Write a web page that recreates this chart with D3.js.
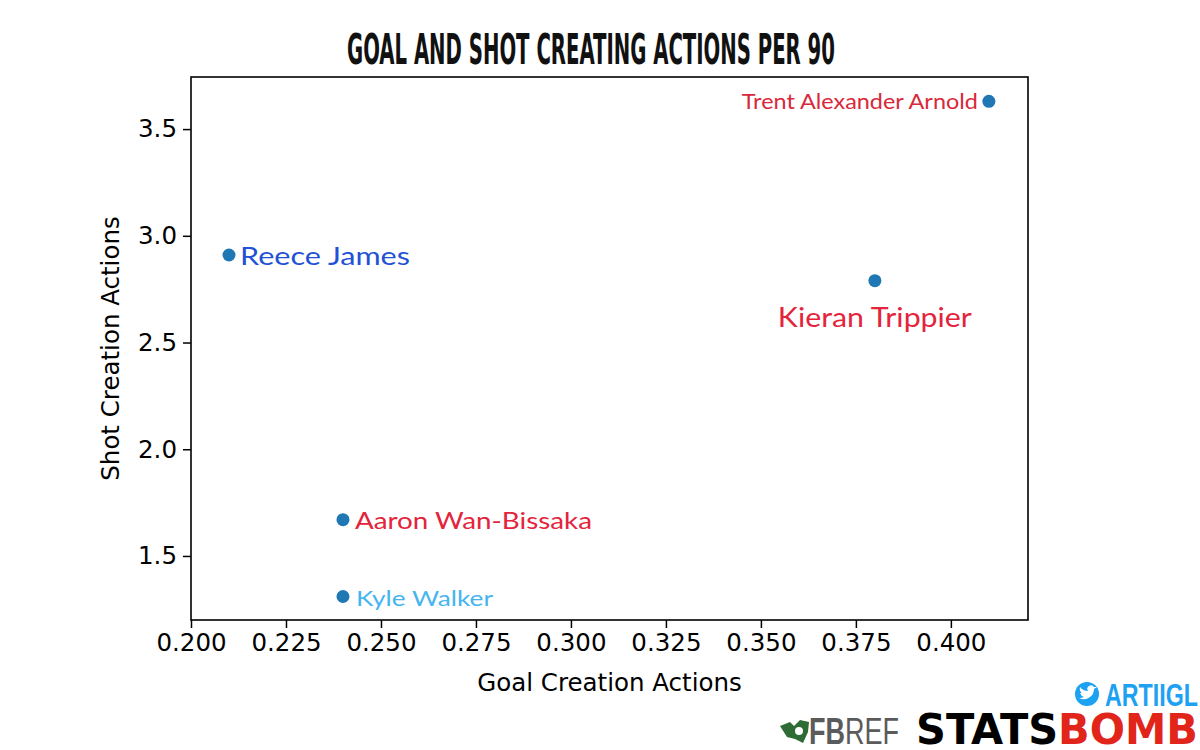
<!DOCTYPE html>
<html>
<head>
<meta charset="utf-8">
<script src="https://cdn.jsdelivr.net/npm/d3@7"></script>
<style>
  body { margin: 0; background: #fff; }
  svg { display: block; }
</style>
</head>
<body>
<svg id="chart" width="1200" height="750"></svg>
<script>
// data
const players = ["Trent Alexander Arnold", "Kieran Trippier", "Reece James", "Aaron Wan-Bissaka", "Kyle Walker"]
const goalCreation = [0.41, 0.38, 0.21, 0.24, 0.24]
const shotCreation = [3.63, 2.79, 2.91, 1.67, 1.31]
const xTicks = [0.200, 0.225, 0.250, 0.275, 0.300, 0.325, 0.350, 0.375, 0.400]
const yTicks = [1.5, 2.0, 2.5, 3.0, 3.5]

// label look for each player (colour, size, where it sits next to the dot)
const labelStyle = {
  "Trent Alexander Arnold": { color: "#d9283a", size: 21, len: 236, anchor: "end",    dx: -11, dy: 8 },
  "Kieran Trippier":        { color: "#e3243b", size: 27, len: 194, anchor: "middle", dx: 0,   dy: 46 },
  "Reece James":            { color: "#2251d6", size: 25, len: 170, anchor: "start",  dx: 11,  dy: 10 },
  "Aaron Wan-Bissaka":      { color: "#e3243b", size: 24, len: 237, anchor: "start",  dx: 12,  dy: 9 },
  "Kyle Walker":            { color: "#45b5ef", size: 22, len: 137, anchor: "start",  dx: 13,  dy: 9 }
}

const points = players.map((p, i) => ({ name: p, x: goalCreation[i], y: shotCreation[i] }))

const svg = d3.select('#chart')
const plotLeft = 191, plotRight = 1028, plotTop = 77, plotBottom = 620

const xScale = d3.scaleLinear([0.2, 0.4203], [plotLeft, plotRight])
const yScale = d3.scaleLinear([1.2, 3.744], [plotBottom, plotTop])

// TITLE
svg.append('text')
  .text('GOAL AND SHOT CREATING ACTIONS PER 90')
  .attr('x', 347).attr('y', 64)
  .attr('textLength', 488)
  .attr('lengthAdjust', 'spacingAndGlyphs')
  .attr('font-family', '"Liberation Sans Narrow", "DejaVu Sans Condensed", sans-serif')
  .attr('font-weight', 'bold')
  .attr('font-size', '43px')
  .attr('fill', '#111')

// AXES
const tickFont = '"DejaVu Sans", sans-serif'

const xAxis = d3.axisBottom(xScale).tickValues(xTicks).tickFormat(d3.format('.3f')).tickSize(8).tickPadding(6)
svg.append('g')
  .attr('transform', `translate(0, ${plotBottom})`)
  .call(xAxis)
  .call(g => g.select('.domain').remove())
  .call(g => g.selectAll('line').attr('stroke', '#000').attr('stroke-width', 1.5))
  .call(g => g.selectAll('text').attr('font-family', tickFont).attr('font-size', '24.5px').attr('fill', '#000'))

const yAxis = d3.axisLeft(yScale).tickValues(yTicks).tickFormat(d3.format('.1f')).tickSize(8).tickPadding(6)
svg.append('g')
  .attr('transform', `translate(${plotLeft}, 0)`)
  .call(yAxis)
  .call(g => g.select('.domain').remove())
  .call(g => g.selectAll('line').attr('stroke', '#000').attr('stroke-width', 1.5))
  .call(g => g.selectAll('text').attr('font-family', tickFont).attr('font-size', '24.5px').attr('fill', '#000'))

// FRAME
svg.append('rect')
  .attr('x', plotLeft).attr('y', plotTop)
  .attr('width', plotRight - plotLeft).attr('height', plotBottom - plotTop)
  .attr('fill', 'none')
  .attr('stroke', '#000')
  .attr('stroke-width', 1.6)

// AXIS LABELS
svg.append('text')
  .text('Goal Creation Actions')
  .attr('x', (plotLeft + plotRight) / 2).attr('y', 691)
  .attr('text-anchor', 'middle')
  .attr('font-family', tickFont)
  .attr('font-size', '24.5px')
  .attr('fill', '#000')

svg.append('text')
  .text('Shot Creation Actions')
  .attr('text-anchor', 'middle')
  .attr('transform', `translate(119, ${(plotTop + plotBottom) / 2}) rotate(-90)`)
  .attr('font-family', tickFont)
  .attr('font-size', '24.5px')
  .attr('fill', '#000')

// POINTS
svg.append('g')
  .selectAll('circle')
  .data(points)
  .join('circle')
  .attr('cx', d => xScale(d.x))
  .attr('cy', d => yScale(d.y))
  .attr('r', 6.5)
  .attr('fill', '#1f77b4')

// PLAYER LABELS
svg.append('g')
  .selectAll('text')
  .data(points)
  .join('text')
  .text(d => d.name)
  .attr('x', d => xScale(d.x) + labelStyle[d.name].dx)
  .attr('y', d => yScale(d.y) + labelStyle[d.name].dy)
  .attr('text-anchor', d => labelStyle[d.name].anchor)
  .attr('textLength', d => labelStyle[d.name].len)
  .attr('lengthAdjust', 'spacingAndGlyphs')
  .attr('font-family', 'Lato, "Noto Sans", sans-serif')
  .attr('font-size', d => labelStyle[d.name].size + 'px')
  .attr('fill', d => labelStyle[d.name].color)

// CREDITS - twitter handle
const tw = svg.append('g')
tw.append('circle').attr('cx', 1087).attr('cy', 694).attr('r', 12).attr('fill', '#1da1f2')
tw.append('path')
  .attr('d', 'M1079,698 q6,3 11,-1 q4,-3 4,-8 l3,-2 l-3,0 q-2,-3 -5,-1 q-3,2 -1,5 q-5,0 -8,-4 q-1,4 2,6 l-2,0 q1,3 4,4 q-2,1 -5,1 z')
  .attr('fill', '#fff')
svg.append('text')
  .text('ARTIIGL')
  .attr('x', 1105).attr('y', 706)
  .attr('textLength', 93)
  .attr('lengthAdjust', 'spacingAndGlyphs')
  .attr('font-family', '"Liberation Sans Narrow", sans-serif')
  .attr('font-weight', 'bold')
  .attr('font-size', '32px')
  .attr('fill', '#1da1f2')

// CREDITS - FBREF
svg.append('path')
  .attr('d', 'M780,726 l10,-4 l4,4 l6,-6 l9,2 l-1,10 l-5,11 l-8,-4 l-8,-2 z')
  .attr('fill', '#2e6b35')
svg.append('circle').attr('cx', 799).attr('cy', 731).attr('r', 4).attr('fill', '#fff')
const fb = svg.append('text')
  .attr('x', 809).attr('y', 744)
  .attr('textLength', 90)
  .attr('lengthAdjust', 'spacingAndGlyphs')
  .attr('font-size', '36px')
  .attr('fill', '#5b5b5b')
fb.append('tspan').text('FB')
  .attr('font-family', '"Liberation Sans", sans-serif')
  .attr('font-weight', 'bold')
fb.append('tspan').text('REF')
  .attr('font-family', '"Liberation Sans Narrow", sans-serif')

// CREDITS - STATSBOMB
const sb = svg.append('text')
  .attr('x', 916).attr('y', 744)
  .attr('textLength', 282)
  .attr('lengthAdjust', 'spacingAndGlyphs')
  .attr('font-family', '"DejaVu Sans", sans-serif')
  .attr('font-weight', 'bold')
  .attr('font-size', '42px')
sb.append('tspan').text('STATS').attr('fill', '#000')
sb.append('tspan').text('BOMB').attr('fill', '#e1251b')
</script>
</body>
</html>
